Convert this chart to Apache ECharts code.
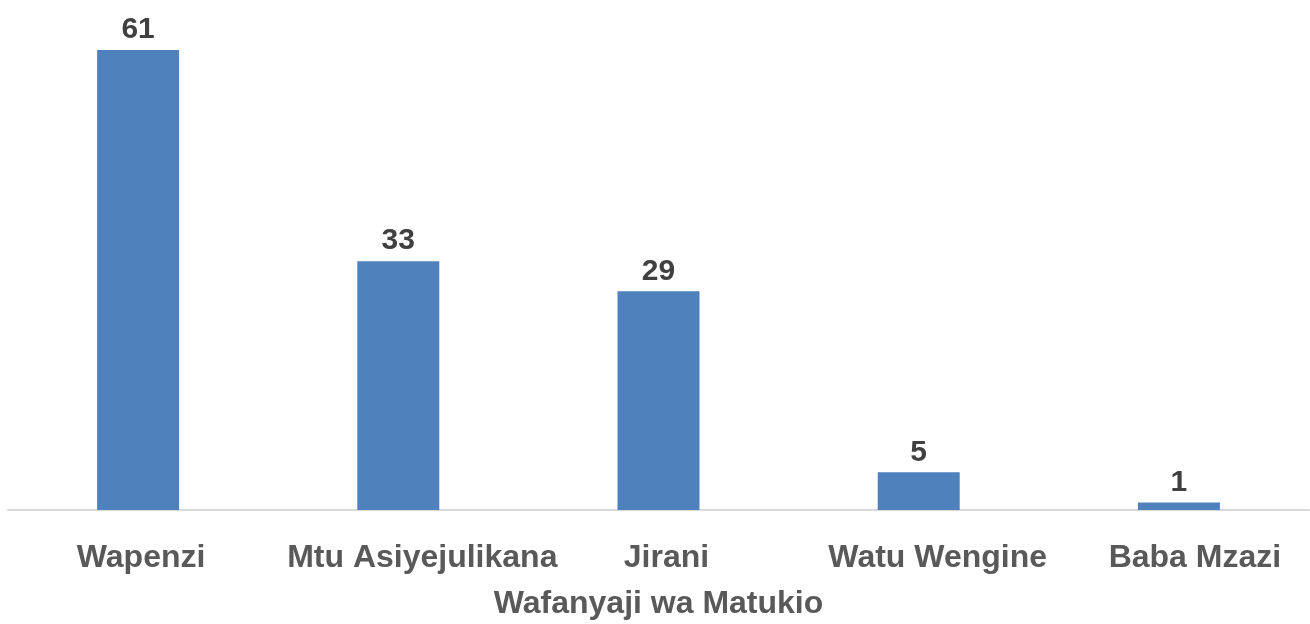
<!DOCTYPE html>
<html>
<head>
<meta charset="utf-8">
<script src="https://cdn.jsdelivr.net/npm/echarts@6/dist/echarts.min.js"></script>
<style>
  body { margin: 0; background: #ffffff; }
  #chart { width: 1310px; height: 624px; }
</style>
</head>
<body>
<div id="chart"></div>
<script>
const categories = ['Wapenzi', 'Mtu Asiyejulikana', 'Jirani', 'Watu Wengine', 'Baba Mzazi'];
const values = [61, 33, 29, 5, 1];
const axisTitle = 'Wafanyaji wa Matukio';

// labels in the source sit a little right of their bars
const labelShift = [3, 24, 8, 19, 16];

const chart = echarts.init(document.getElementById('chart'));
const fontFamily = '"Liberation Sans", Arial, sans-serif';

chart.setOption({
  backgroundColor: '#ffffff',
  animation: false,
  grid: { left: 8, right: 1, top: 50, bottom: 114, containLabel: false, outerBoundsMode: 'none' },
  xAxis: {
    type: 'category',
    data: categories.map((c, i) => ({
      value: c,
      textStyle: { padding: [0, 0, 0, labelShift[i] * 2] }
    })),
    name: axisTitle,
    nameLocation: 'middle',
    nameGap: 78,
    nameTextStyle: { color: '#595959', fontSize: 32, fontWeight: 'bold', fontFamily },
    axisLine: { lineStyle: { color: '#d9d9d9', width: 2 } },
    axisTick: { show: false },
    axisLabel: { color: '#595959', fontSize: 32, fontWeight: 'bold', fontFamily, margin: 32, interval: 0 }
  },
  yAxis: {
    type: 'value',
    min: 0,
    max: 61,
    show: false,
    splitLine: { show: false }
  },
  series: [{
    type: 'bar',
    data: values,
    barWidth: 82,
    itemStyle: { color: '#4f81bd' },
    label: {
      show: true,
      position: 'top',
      distance: 5,
      color: '#404040',
      fontSize: 30,
      fontWeight: 'bold',
      fontFamily
    }
  }]
});
</script>
</body>
</html>
